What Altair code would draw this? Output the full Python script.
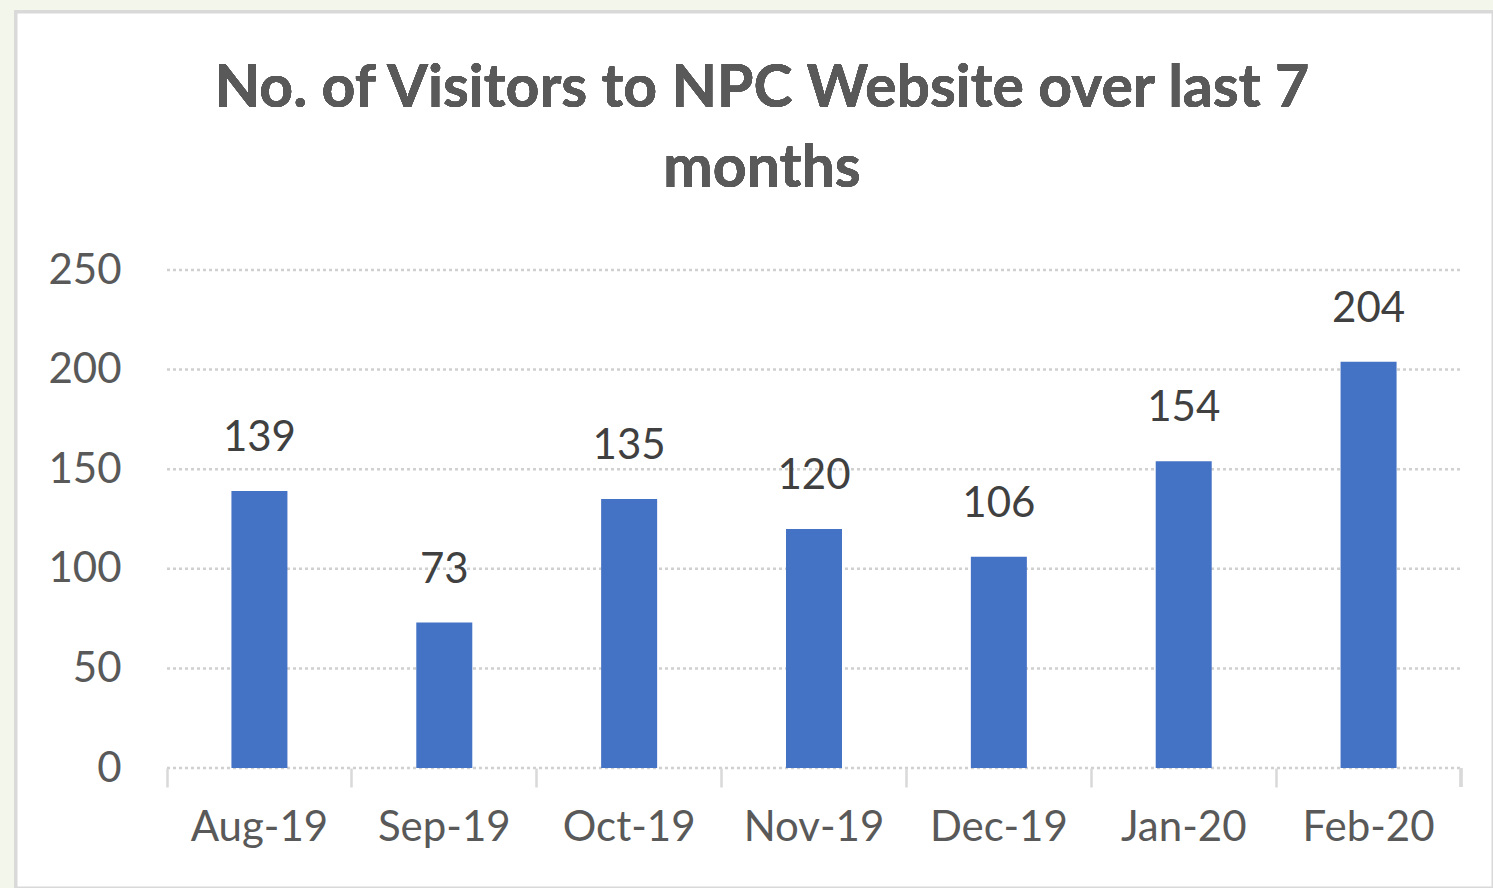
import altair as alt
import pandas as pd

months = ["Aug-19", "Sep-19", "Oct-19", "Nov-19", "Dec-19", "Jan-20", "Feb-20"]
visitors = [139, 73, 135, 120, 106, 154, 204]
y_ticks = [0, 50, 100, 150, 200, 250]
title_lines = ["No. of Visitors to NPC Website over last 7", "months"]

df = pd.DataFrame({"month": months, "visitors": visitors})
grid_df = pd.DataFrame({"v": y_ticks})

W, H = 1294, 498
FONT = "Lato"
YSCALE = alt.Scale(domain=[0, 250], nice=False, zero=True)
YAXIS = alt.Axis(title=None, values=y_ticks, grid=False, domain=False,
                 ticks=False, labelFont=FONT, labelFontSize=42,
                 labelColor="#595959", labelPadding=46, zindex=1)

xs = alt.X("month:N", sort=months,
           scale=alt.Scale(paddingInner=0, paddingOuter=0),
           axis=alt.Axis(title=None, labelAngle=0, bandPosition=0,
                         domain=False, ticks=True, tickSize=19,
                         tickColor="#d9d9d9", tickWidth=2.5,
                         labelFont=FONT, labelFontSize=42, labelColor="#595959",
                         labelPadding=20, zindex=1))
ys = alt.Y("visitors:Q", scale=YSCALE, axis=YAXIS)

panel = alt.Chart(df).mark_rect(fill="white", stroke="#d9d9d9", strokeWidth=3,
                                clip=False).encode(
    x=alt.value(-151), x2=alt.value(1326), y=alt.value(-258), y2=alt.value(618))

title = alt.Chart(df).mark_text(
    font=FONT, fontSize=59, fontWeight="bold", color="#595959",
    align="center", baseline="alphabetic", lineHeight=80).encode(
    x=alt.value(595), y=alt.value(-163), text=alt.value(title_lines))

grid = alt.Chart(grid_df).mark_rule(color="#d0d0d0", strokeWidth=2.5,
                                    strokeDash=[3, 3]).encode(
    y=alt.Y("v:Q", scale=YSCALE, axis=YAXIS),
    x=alt.value(0), x2=alt.value(W))

bars = alt.Chart(df).mark_bar(color="#4472C4", width=56).encode(x=xs, y=ys)

labels = alt.Chart(df).mark_text(font=FONT, fontSize=42, color="#404040",
                                 baseline="alphabetic", dy=-40).encode(
    x=alt.X("month:N", sort=months),
    y=alt.Y("visitors:Q", scale=YSCALE, axis=YAXIS), text="visitors:Q")

end_tick = alt.Chart(df).mark_rule(color="#d9d9d9", strokeWidth=2.5).encode(
    x=alt.value(W), y=alt.value(H), y2=alt.value(H + 19))

chart = alt.layer(panel, title, grid, bars, labels, end_tick).properties(
    width=W, height=H,
    padding={"left": 167, "top": 270, "right": 32, "bottom": 120},
    autosize=alt.AutoSizeParams(type="none"),
    background="#F3F6EA",
).configure_view(stroke=None)

chart.save("out.html", embed_options={"renderer": "svg", "actions": False})
